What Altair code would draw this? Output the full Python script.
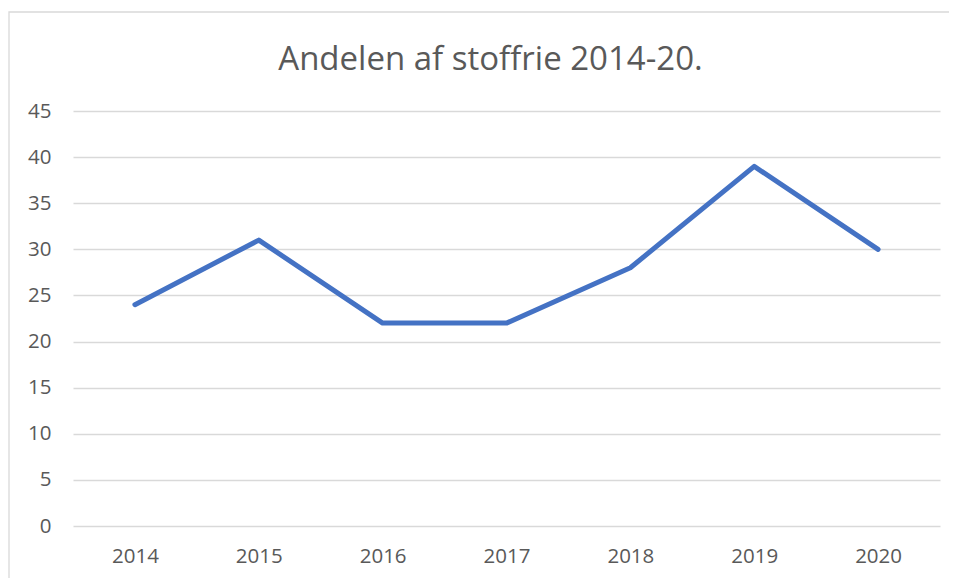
import altair as alt
import pandas as pd

title_text = "Andelen af stoffrie 2014-20."
years = ["2014", "2015", "2016", "2017", "2018", "2019", "2020"]
values = [24, 31, 22, 22, 28, 39, 30]

df = pd.DataFrame({"year": years, "value": values})

W, H = 867, 415
FONT = "Open Sans"
GRAY = "#595959"

line = alt.Chart(df).mark_line(color="#4472C4", strokeWidth=5, strokeCap="round", strokeJoin="round").encode(
    x=alt.X("year:O", scale=alt.Scale(type="point", padding=0.5),
            axis=alt.Axis(title=None, labelAngle=0, domain=False, ticks=False, grid=False,
                          labelFont=FONT, labelFontSize=20.5, labelColor=GRAY,
                          labelPadding=20)),
    y=alt.Y("value:Q", scale=alt.Scale(domain=[0, 45], nice=False),
            axis=alt.Axis(title=None, values=list(range(0, 50, 5)), domain=False, ticks=False,
                          gridColor="#D9D9D9", gridWidth=1.3,
                          labelFont=FONT, labelFontSize=20.5, labelColor=GRAY,
                          labelPadding=22)),
)

single = alt.Chart(pd.DataFrame({"t": [title_text]}))

border = single.mark_rect(fill=None, stroke="#D9D9D9", strokeWidth=1.3).encode(
    x=alt.value(-64), x2=alt.value(1100), y=alt.value(-99), y2=alt.value(800)
)

title = single.mark_text(font=FONT, fontSize=33, color=GRAY, align="center", baseline="alphabetic").encode(
    text="t:N", x=alt.value(W / 2 - 16), y=alt.value(-41)
)

chart = alt.layer(border, title, line).properties(
    width=W, height=H,
    padding={"left": 65, "top": 103, "right": 9, "bottom": 52},
    autosize=alt.AutoSizeParams(type="none"),
).configure_view(stroke=None)

chart.save("out.html", embed_options={"renderer": "svg", "actions": False})
